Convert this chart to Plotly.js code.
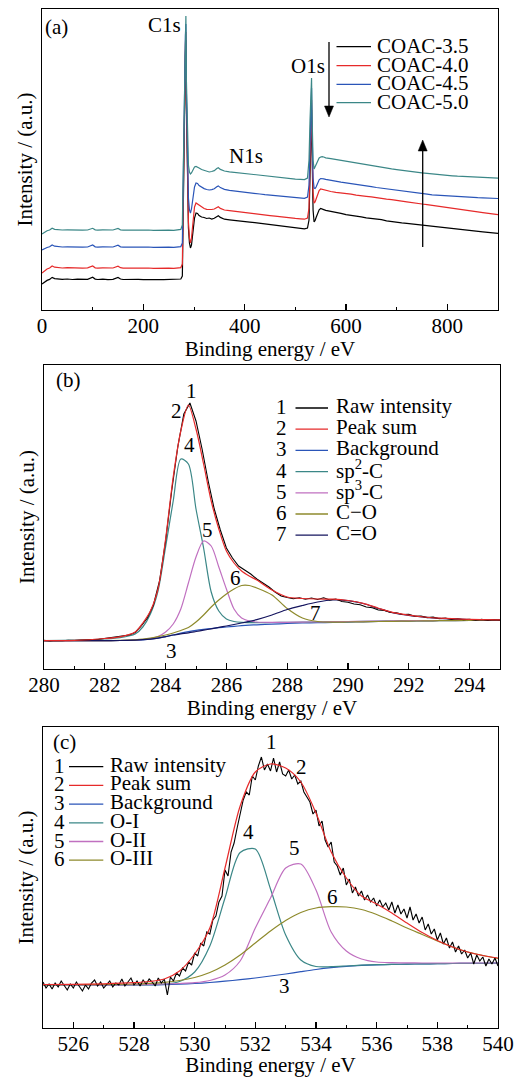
<!DOCTYPE html>
<html><head><meta charset="utf-8">
<script src="https://cdn.plot.ly/plotly-3.0.1.min.js"></script>
<style>html,body{margin:0;padding:0;background:#fff}</style>
</head><body><div id="chart" style="width:521px;height:1077px"></div>
<script>
// ---------------- Panel (a): XPS survey spectra ----------------
const surveyEnergy = [
  0, 5, 10, 15, 20, 25, 30, 40, 50, 60,
  70, 80, 90, 100, 105, 110, 120, 130, 140, 150,
  155, 160, 170, 180, 190, 200, 210, 220, 230, 240,
  250, 260, 270, 274, 277, 279, 281, 283, 284, 285,
  287, 289, 291, 293, 295, 298, 301, 304, 307, 310,
  315, 320, 325, 330, 335, 340, 345, 348, 352, 356,
  360, 370, 380, 390, 400, 410, 420, 430, 440, 450,
  460, 470, 480, 490, 500, 510, 518, 524, 527, 529,
  531, 532, 533, 535, 537, 539, 541, 544, 547, 550,
  553, 556, 560, 570, 580, 590, 600, 610, 620, 630,
  640, 650, 660, 670, 680, 690, 700, 710, 720, 730,
  740, 750, 760, 770, 780, 790, 800, 810, 820, 830,
  840, 850, 860, 870, 880, 890, 900];
const coac35 = [
  26, 28.2, 29.6, 30.6, 32.6, 31.4, 31.0, 30.6, 31.0, 30.5,
  30.8, 30.4, 30.7, 32.8, 30.9, 30.5, 30.8, 30.3, 30.6, 32.6,
  31.0, 30.5, 30.7, 30.3, 30.6, 30.4, 30.6, 30.2, 30.5, 30.3,
  30.4, 30.2, 30.6, 31.0, 34, 90, 180, 255, 270, 205,
  125, 82, 67, 62, 65, 80, 92, 97, 96.5, 94.5,
  93, 92.5, 91.5, 92, 91, 91.8, 93.2, 94.3, 92.6, 91.4,
  90.8, 90.2, 89.8, 89.0, 88.7, 87.9, 87.4, 86.8, 86.3, 85.5,
  84.8, 84.1, 83.6, 82.7, 82.3, 81.5, 81.2, 82.0, 90, 135,
  190, 200, 160, 100, 88, 89.5, 92.5, 97, 100.2, 101.5,
  101.3, 100.4, 99.6, 98.8, 97.4, 96.7, 95.4, 94.8, 93.6, 93.2,
  92.1, 91.7, 90.6, 90.3, 89.1, 88.7, 88.1, 87.2, 86.7, 86.1,
  85.2, 84.8, 84.0, 83.8, 83.0, 82.4, 81.6, 81.3, 80.5, 80.2,
  79.6, 79.3, 78.4, 78.1, 77.6, 77.2, 76.6];
const coac40 = [
  37, 39.5, 41, 42, 44, 42.8, 42.3, 42.0, 42.3, 41.9,
  42.2, 41.8, 42.1, 44.0, 42.2, 41.9, 42.1, 41.8, 42.0, 43.8,
  42.3, 41.9, 42.0, 41.7, 42.0, 41.8, 42.0, 41.6, 41.9, 41.7,
  41.8, 41.6, 42.0, 42.4, 46, 100, 190, 265, 278, 210,
  130, 88, 72, 67, 72, 90, 103, 107, 106, 104.5,
  102.5, 101.5, 100.6, 100.2, 100.5, 101, 102.5, 103.2, 101.6, 100.5,
  100, 99.3, 98.6, 98.1, 97.4, 97.0, 96.1, 95.7, 94.8, 94.4,
  93.8, 93.1, 92.7, 92.0, 91.6, 91.2, 90.8, 92, 102, 150,
  200, 210, 170, 118, 107, 108, 111, 116, 119.5, 121,
  120.6, 120, 119.2, 118.5, 117.7, 117.2, 116.3, 115.9, 114.8, 114.6,
  113.7, 113.2, 112.3, 111.6, 110.8, 110.4, 109.4, 108.9, 108.2, 107.3,
  106.7, 106.0, 105.4, 104.6, 103.9, 103.2, 102.5, 101.8, 101.1, 100.2,
  99.6, 98.9, 98.1, 97.4, 96.7, 96.0, 95.3];
const coac45 = [
  60, 61.5, 62.5, 63.2, 65, 63.8, 63.3, 63.0, 63.2, 62.9,
  63.1, 62.8, 63.0, 65.0, 63.2, 62.9, 63.1, 62.7, 63.0, 64.8,
  63.2, 62.9, 63.0, 62.7, 63.0, 62.8, 63.0, 62.6, 62.9, 62.7,
  62.8, 62.6, 62.9, 63.4, 67, 120, 205, 275, 286, 218,
  150, 112, 100, 97, 101, 113, 123, 127, 126.5, 124.5,
  122.5, 121.4, 120.5, 120, 120.4, 121.2, 123.2, 124.1, 122.4, 121.2,
  120.6, 119.7, 119.2, 118.5, 117.8, 117.3, 116.6, 116.0, 115.4, 114.9,
  114.4, 113.8, 113.5, 112.8, 112.4, 112.0, 111.7, 113, 125, 165,
  212, 222, 180, 132, 122, 121.5, 123, 127, 130.2, 131.5,
  131.7, 131.2, 130.6, 129.5, 128.6, 127.8, 127.1, 126.2, 125.6, 124.9,
  124.0, 123.3, 122.5, 121.8, 120.7, 120.2, 119.4, 118.6, 118.1, 117.4,
  116.8, 116.3, 115.8, 115.2, 114.8, 114.4, 114.0, 113.7, 113.3, 113.0,
  112.8, 112.5, 112.3, 112.1, 111.9, 111.7, 111.5];
const coac50 = [
  76, 78, 79.2, 80, 81.8, 80.7, 80.3, 80.0, 80.2, 79.9,
  80.1, 79.8, 80.0, 81.7, 80.2, 79.9, 80.1, 79.7, 80.0, 81.5,
  80.2, 79.9, 80.0, 79.7, 80.0, 79.8, 80.0, 79.6, 79.9, 79.8,
  79.8, 79.7, 80.0, 80.6, 85, 140, 225, 285, 294, 230,
  170, 145, 138, 136, 137, 140, 143, 143.5, 143, 142,
  140.5, 139.5, 138.6, 138, 138.5, 139.4, 141.5, 142.3, 140.6, 139.6,
  139.0, 138.2, 137.6, 136.9, 136.3, 135.7, 135.0, 134.5, 133.9, 133.3,
  132.8, 132.3, 131.9, 131.3, 130.9, 130.6, 130.4, 132, 150, 190,
  225, 232, 195, 150, 141, 143, 146, 149.5, 152, 153,
  153.4, 153, 152.2, 151.3, 150.4, 149.6, 148.5, 147.7, 146.8, 146.1,
  145.2, 144.3, 143.5, 142.6, 141.8, 141.1, 140.4, 139.6, 139.0, 138.4,
  137.8, 137.1, 136.6, 136.0, 135.5, 135.0, 134.6, 134.2, 133.8, 133.5,
  133.2, 132.9, 132.6, 132.4, 132.2, 132.0, 131.8];
const surveyNames = ['COAC-3.5', 'COAC-4.0', 'COAC-4.5', 'COAC-5.0'];

// ---------------- Panel (b): C1s high-resolution ----------------
const c1sRawStart = 280, c1sRawStep = 0.2;
const c1sRaw = [
  28.6, 28.0, 28.5, 28.2, 28.8, 28.5, 29.0, 28.9, 29.5, 29.8,
  30.6, 30.9, 31.8, 32.5, 34.0, 36.5, 43, 51, 64, 88,
  128, 178, 222, 255, 266, 248, 220, 188, 160, 139,
  121, 111, 103, 99, 95, 90, 86, 82, 77, 73,
  71.5, 70.2, 71.3, 69.8, 71.0, 69.5, 71.2, 69.0, 70.0, 67.5,
  66.8, 65.0, 64.3, 62.0, 61.2, 59.0, 58.6, 56.5, 56.2, 54.5,
  54.6, 52.8, 53.0, 51.4, 51.9, 50.3, 50.9, 49.6, 50.3, 49.2,
  49.8, 48.7, 49.6, 48.5, 49.4, 48.8];
const c1sFitEnergy = [280, 281, 282, 282.5, 283, 283.25, 283.5, 283.75, 284, 284.25,
  284.5, 284.75, 285, 285.25, 285.5, 285.75, 286, 286.25, 286.5, 286.75,
  287, 287.5, 288, 288.5, 289, 289.5, 290, 290.5, 291, 291.5,
  292, 292.5, 293, 294, 295];
const c1sPeakSum = [28.3, 28.6, 30.5, 32.2, 37, 46, 58, 80, 130, 192,
  238, 264, 240, 205, 168, 140, 118, 106, 98, 93,
  89, 79, 72, 70.5, 70, 69.8, 68.5, 65.7, 60.8, 56.3,
  53.8, 52, 50.8, 49.6, 49.1];
const c1sBackground = [28.3, 28.3, 28.4, 28.5, 28.8, 29.2, 29.8, 30.8, 32.3, 34,
  35.8, 37.3, 38.6, 39.6, 40.5, 41.3, 42, 42.7, 43.3, 43.8,
  44.2, 44.9, 45.5, 46, 46.3, 46.6, 46.9, 47.2, 47.5, 47.7,
  47.9, 48.1, 48.3, 48.6, 48.9];
const c1sSp2 = [28.3, 28.8, 30, 31.3, 35, 42, 55, 78, 122, 168,
  210, 205, 160, 121, 77, 58, 50, 47.5, 46.6, 46.4,
  46.4, 46.5, 46.6, 46.8, 47, 47.2, 47.4, 47.6, 47.8, 48,
  48.2, 48.4, 48.5, 48.7, 48.9];
const c1sSp3 = [28.3, 28.3, 28.4, 28.5, 29, 29.5, 30.5, 32.5, 37, 45,
  60, 86, 112, 128, 123, 102, 80, 60, 51, 48,
  47, 46.6, 46.7, 46.9, 47.1, 47.3, 47.5, 47.7, 47.9, 48.1,
  48.3, 48.4, 48.5, 48.7, 48.9];
const c1sCO = [28.3, 28.3, 28.4, 28.6, 29.2, 29.8, 30.8, 32.3, 34, 36,
  38.5, 41.5, 47, 54, 62, 69, 75, 80, 83.5, 83.5,
  81, 74, 60.5, 51, 47.5, 46.8, 47, 47.2, 47.5, 47.7,
  47.9, 48.1, 48.3, 48.6, 48.9];
const c1sCdO = [28.3, 28.3, 28.4, 28.5, 28.9, 29.3, 29.9, 30.9, 32.4, 34,
  35.2, 36.2, 37.5, 38.8, 40.2, 41.6, 43, 44.5, 46, 47.6,
  49.4, 54, 59.5, 63.5, 67, 69, 68.3, 65.5, 60.5, 56,
  53.5, 51.8, 50.6, 49.5, 49];
const c1sNames = ['Raw intensity', 'Peak sum', 'Background', 'sp<sup>2</sup>-C', 'sp<sup>3</sup>-C', 'C\u2212O', 'C=O'];

// ---------------- Panel (c): O1s high-resolution ----------------
const o1sRawStart = 525, o1sRawStep = 0.1;
const o1sRaw = [
  46, 40, 44, 39, 45, 41, 47, 42, 38, 44,
  40, 46, 41, 37, 43, 39, 45, 48, 42, 46,
  40, 44, 47, 41, 45, 43, 49, 42, 46, 50,
  43, 47, 42, 48, 44, 49, 46, 42, 50, 45,
  49, 33, 51, 47, 55, 52, 60, 57, 66, 63,
  75, 72, 85, 82, 96, 94, 108, 112, 126, 132,
  158, 152, 176, 185, 200, 214, 228, 236, 233, 252,
  248, 262, 271, 258, 264, 257, 270, 256, 266, 254,
  252, 258, 249, 253, 244, 247, 236, 231, 226, 214,
  218, 202, 207, 188, 181, 186, 166, 162, 153, 160,
  143, 149, 135, 141, 132, 137, 128, 133, 126, 130,
  122, 128, 121, 125, 118, 126, 115, 123, 114, 119,
  110, 121, 108, 114, 105, 111, 98, 104, 94, 99,
  88, 95, 84, 90, 80, 86, 76, 82, 74, 78,
  70, 75, 64, 73, 67, 71, 62, 69, 64, 70,
  62];
const o1sFitEnergy = [525, 526, 527, 528, 528.5, 529, 529.5, 530, 530.5, 531,
  531.5, 532, 532.5, 533, 533.5, 534, 534.5, 535, 535.5, 536,
  536.5, 537, 537.5, 538, 538.5, 539, 539.5, 540];
const o1sPeakSum = [43.5, 43.7, 44.2, 45.3, 46.5, 49, 57, 74, 100, 160,
  222, 256, 264, 260, 246, 215, 176, 150, 132, 124,
  115, 105, 95.5, 87.5, 81, 76, 72.5, 70];
const o1sBackground = [43, 43, 43, 43, 43.1, 43.3, 43.8, 44.5, 45.5, 46.8,
  48.3, 50, 52, 54, 56.3, 58.5, 60.3, 61.7, 62.6, 63.2,
  63.6, 63.9, 64.1, 64.3, 64.5, 64.6, 64.7, 64.8];
const o1sOI = [43, 43, 43, 43.1, 43.3, 43.8, 46.5, 56, 82, 130,
  175.5, 179, 139, 93, 68, 61.5, 61.3, 62, 62.8, 63.3,
  63.6, 63.9, 64.1, 64.3, 64.5, 64.6, 64.7, 64.8];
const o1sOII = [43, 43, 43.1, 43.3, 43.6, 44, 44.5, 45.3, 47.5, 53,
  67, 100, 130, 160, 164, 138, 96, 77, 69, 66,
  65.3, 65.1, 65, 65, 65, 65, 65, 65];
const o1sOIII = [43.2, 43.3, 43.5, 44, 44.7, 45.7, 47.5, 50.5, 55.5, 63,
  73, 85, 97, 107.5, 115.5, 120, 121.3, 121, 118.5, 113.5,
  107, 100, 93.5, 87, 81, 76, 72.5, 69.5];
const o1sNames = ['Raw intensity', 'Peak sum', 'Background', 'O-I', 'O-II', 'O-III'];

// ---------------- styling ----------------
const FONT = '"Liberation Serif", "Times New Roman", serif';
const FS = 21;
const C = {black: '#000000', red: '#e62a2a', blue: '#2a55b8', teal: '#3b8787',
           pink: '#c070c0', olive: '#8e8a2c', navy: '#14145e'};
const W = 521, H = 1077;
const px = x => x / W;
const py = y => 1 - y / H;

function line(x, y, color, xa, ya) {
  return {type: 'scatter', mode: 'lines', x: x, y: y, xaxis: xa, yaxis: ya,
    line: {color: color, width: 1.2}, showlegend: false, hoverinfo: 'skip'};
}
function fit(x, y, color, xa, ya) {
  return {type: 'scatter', mode: 'lines', x: x, y: y, xaxis: xa, yaxis: ya,
    line: {color: color, width: 1.2, shape: 'spline', smoothing: 0.8}, showlegend: false, hoverinfo: 'skip'};
}
function raw(x0, dx, y, xa, ya) {
  return {type: 'scatter', mode: 'lines', x0: x0, dx: dx, y: y, xaxis: xa, yaxis: ya,
    line: {color: '#000', width: 1.1}, showlegend: false, hoverinfo: 'skip'};
}

const surveyColors = [C.black, C.red, C.blue, C.teal];
const surveySeries = [coac35, coac40, coac45, coac50];

const traces = [];
surveySeries.forEach((s, i) => traces.push(line(surveyEnergy, s, surveyColors[i], 'x', 'y')));

traces.push(fit(c1sFitEnergy, c1sBackground, C.blue, 'x2', 'y2'));
traces.push(fit(c1sFitEnergy, c1sSp2, C.teal, 'x2', 'y2'));
traces.push(fit(c1sFitEnergy, c1sSp3, C.pink, 'x2', 'y2'));
traces.push(fit(c1sFitEnergy, c1sCO, C.olive, 'x2', 'y2'));
traces.push(fit(c1sFitEnergy, c1sCdO, C.navy, 'x2', 'y2'));
traces.push(raw(c1sRawStart, c1sRawStep, c1sRaw, 'x2', 'y2'));
traces.push(fit(c1sFitEnergy, c1sPeakSum, C.red, 'x2', 'y2'));

traces.push(fit(o1sFitEnergy, o1sBackground, C.blue, 'x3', 'y3'));
traces.push(fit(o1sFitEnergy, o1sOI, C.teal, 'x3', 'y3'));
traces.push(fit(o1sFitEnergy, o1sOII, C.pink, 'x3', 'y3'));
traces.push(fit(o1sFitEnergy, o1sOIII, C.olive, 'x3', 'y3'));
traces.push(raw(o1sRawStart, o1sRawStep, o1sRaw, 'x3', 'y3'));
traces.push(fit(o1sFitEnergy, o1sPeakSum, C.red, 'x3', 'y3'));

function xAxis(domain, anchor, range, tick0, dtick, minor) {
  return {domain: domain, anchor: anchor, range: range, tick0: tick0, dtick: dtick,
    ticks: 'inside', ticklen: 6, tickwidth: 1.2, tickcolor: '#000', ticklabelstandoff: -4,
    minor: {ticks: 'inside', ticklen: 3.5, tickwidth: 1, dtick: minor, tickcolor: '#000'},
    showline: true, mirror: true, linecolor: '#000', linewidth: 1.3,
    showgrid: false, zeroline: false, fixedrange: true,
    tickfont: {family: FONT, size: FS, color: '#000'},
    title: {text: 'Binding energy / eV', font: {family: FONT, size: FS, color: '#000'}, standoff: 1}};
}
function yAxis(domain, anchor, range) {
  return {domain: domain, anchor: anchor, range: range, showticklabels: false, ticks: '',
    showline: true, mirror: true, linecolor: '#000', linewidth: 1.3,
    showgrid: false, zeroline: false, fixedrange: true,
    title: {text: 'Intensity / (a.u.)', font: {family: FONT, size: FS, color: '#000'}, standoff: 2}};
}

const ann = [];
const shapes = [];
function txt(text, x, y, xanchor) {
  ann.push({text: text, x: px(x), y: py(y), xref: 'paper', yref: 'paper', showarrow: false,
    xanchor: xanchor || 'center', yanchor: 'middle', borderpad: 0,
    font: {family: FONT, size: FS, color: '#000'}});
}
function legLine(x0, x1, y, color) {
  shapes.push({type: 'line', xref: 'paper', yref: 'paper', x0: px(x0), x1: px(x1), y0: py(y), y1: py(y),
    line: {color: color, width: 1.3}});
}
// arrow drawn as a shaft line plus a filled triangular head (pixel positions -> paper)
function arrow(x, yTail, yHead) {
  const dir = yHead > yTail ? 1 : -1;
  const hb = yHead - dir * 11;
  shapes.push({type: 'line', xref: 'paper', yref: 'paper', x0: px(x), x1: px(x), y0: py(yTail), y1: py(hb),
    line: {color: '#000', width: 1.3}});
  shapes.push({type: 'path', xref: 'paper', yref: 'paper',
    path: 'M ' + px(x - 4.5) + ' ' + py(hb) + ' L ' + px(x + 4.5) + ' ' + py(hb) +
          ' L ' + px(x) + ' ' + py(yHead) + ' Z',
    fillcolor: '#000', line: {color: '#000', width: 0.5}});
}

// Panel (a) text
txt('(a)', 44, 27, 'left');
txt('C1s', 182, 25, 'right');
txt('O1s', 326, 66, 'right');
txt('N1s', 246, 156);
const legAY = [46.7, 65.7, 84.3, 102.7];
surveyNames.forEach((n, i) => { legLine(336.5, 371, legAY[i], surveyColors[i]); txt(n, 375.5, legAY[i] - 1, 'left'); });
arrow(329, 42, 117);
arrow(422.7, 247, 140);

// Panel (b) text
txt('(b)', 55, 380, 'left');
txt('1', 191.7, 391); txt('2', 176.7, 411); txt('4', 189.3, 445); txt('5', 207.3, 530);
txt('6', 235.7, 578); txt('7', 315, 613); txt('3', 171.7, 651);
const c1sColors = [C.black, C.red, C.blue, C.teal, C.pink, C.olive, C.navy];
c1sNames.forEach((n, i) => {
  const y = 408 + i * 21.2;
  txt(String(i + 1), 281.7, y - 1);
  legLine(295.5, 328, y, c1sColors[i]);
  txt(n, 334.5, y - 2, 'left');
});

// Panel (c) text
txt('(c)', 52, 742, 'left');
txt('1', 271.7, 742); txt('2', 301.7, 767); txt('4', 248.3, 832); txt('5', 294.7, 848);
txt('6', 332.7, 897); txt('3', 284, 986);
const o1sColors = [C.black, C.red, C.blue, C.teal, C.pink, C.olive];
o1sNames.forEach((n, i) => {
  const y = 766.7 + i * 18.7;
  txt(String(i + 1), 59, y - 1);
  legLine(69, 103.3, y, o1sColors[i]);
  txt(n, 108.5, y - 2, 'left');
});

const layout = {
  width: W, height: H, margin: {l: 0, r: 0, t: 0, b: 0},
  paper_bgcolor: '#fff', plot_bgcolor: '#fff', showlegend: false,
  font: {family: FONT, size: FS, color: '#000'},
  xaxis: xAxis([px(42), px(498)], 'y', [0, 900], 0, 200, 100),
  yaxis: yAxis([py(310), py(9)], 'x', [0, 301]),
  xaxis2: xAxis([px(44), px(500)], 'y2', [280, 295], 280, 2, 1),
  yaxis2: yAxis([py(669), py(365)], 'x2', [0, 304]),
  xaxis3: xAxis([px(43), px(498)], 'y3', [525, 540], 526, 2, 1),
  yaxis3: yAxis([py(1028), py(727)], 'x3', [0, 301]),
  annotations: ann, shapes: shapes
};

Plotly.newPlot('chart', traces, layout, {staticPlot: true, displayModeBar: false});
</script></body></html>
